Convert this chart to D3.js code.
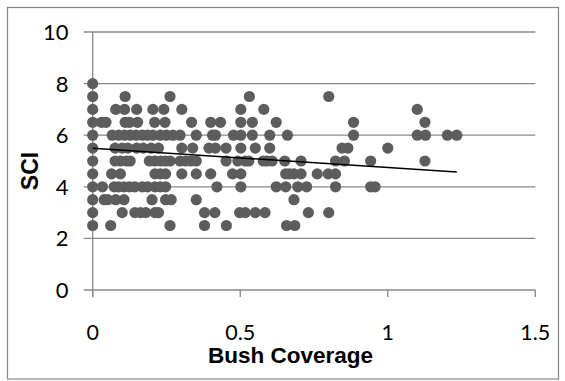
<!DOCTYPE html>
<html>
<head>
<meta charset="utf-8">
<script src="https://cdn.jsdelivr.net/npm/d3@7"></script>
<style>
  body { margin: 0; background: #fff; }
</style>
</head>
<body>
<div id="chart"></div>
<script>
// Bush coverage values, grouped by the SCI score they were recorded with
const sci80 = [0];
const sci75 = [0, 0.11, 0.262, 0.531, 0.80];
const sci70 = [0, 0.078, 0.108, 0.149, 0.204, 0.241, 0.302, 0.502, 0.58, 1.10];
const sci65 = [0, 0.03, 0.045, 0.11, 0.125, 0.152, 0.21, 0.245, 0.335, 0.40, 0.433, 0.502, 0.541, 0.622, 0.884, 1.126];
const sci60 = [0, 0.066, 0.088, 0.108, 0.127, 0.147, 0.168, 0.186, 0.204, 0.229, 0.25, 0.272, 0.296,
  0.351, 0.406, 0.416, 0.477, 0.502, 0.541, 0.60, 0.66, 0.884, 1.10, 1.128, 1.202, 1.234];
const sci55 = [0, 0.076, 0.10, 0.119, 0.149, 0.171, 0.198, 0.223, 0.302, 0.339, 0.394, 0.416, 0.452,
  0.502, 0.551, 0.60, 0.845, 0.865, 1.0];
const sci50 = [0, 0.076, 0.094, 0.115, 0.127, 0.192, 0.211, 0.231, 0.247, 0.262, 0.296, 0.315, 0.333,
  0.351, 0.452, 0.492, 0.517, 0.529, 0.578, 0.59, 0.608, 0.651, 0.706, 0.823, 0.853, 0.942, 1.126];
const sci45 = [0, 0.064, 0.094, 0.211, 0.229, 0.247, 0.302, 0.351, 0.40, 0.474, 0.502, 0.654, 0.667,
  0.682, 0.706, 0.761, 0.798, 0.823];
const sci40 = [0, 0.033, 0.073, 0.088, 0.106, 0.125, 0.143, 0.168, 0.186, 0.211, 0.229, 0.247, 0.421,
  0.502, 0.622, 0.654, 0.695, 0.725, 0.823, 0.942, 0.957];
const sci35 = [0, 0.039, 0.051, 0.078, 0.106, 0.201, 0.247, 0.266, 0.351, 0.682];
const sci30 = [0, 0.10, 0.143, 0.162, 0.18, 0.211, 0.223, 0.379, 0.414, 0.498, 0.517, 0.551, 0.584, 0.731, 0.80];
const sci25 = [0, 0.061, 0.262, 0.379, 0.453, 0.657, 0.685];

const sciLevels = [8, 7.5, 7, 6.5, 6, 5.5, 5, 4.5, 4, 3.5, 3, 2.5];
const coverageRows = [sci80, sci75, sci70, sci65, sci60, sci55, sci50, sci45, sci40, sci35, sci30, sci25];

// linear trendline
const trendX = [0, 1.234];
const trendIntercept = 5.49;
const trendSlope = -0.745;

const xTicks = [0, 0.5, 1, 1.5];
const yTicks = [0, 2, 4, 6, 8, 10];

const points = [];
sciLevels.forEach((s, i) => {
  coverageRows[i].forEach((c) => points.push({ x: c, y: s }));
});

const W = 565, H = 381;
const svg = d3.select("#chart")
  .append("svg")
  .attr("width", W)
  .attr("height", H);

// outer chart border
svg.append("rect")
  .attr("x", 7.5).attr("y", 7.5)
  .attr("width", 551).attr("height", 371.5)
  .attr("fill", "#fff")
  .attr("stroke", "#868686")
  .attr("stroke-width", 1.2);

const x = d3.scaleLinear().domain([0, 1.5]).range([92.7, 535.3]);
const y = d3.scaleLinear().domain([0, 10]).range([290, 32]);

const gridColor = "#888";

// horizontal gridlines with their left ticks
svg.append("g")
  .selectAll("line")
  .data(yTicks)
  .enter()
  .append("line")
  .attr("x1", x(0) - 9)
  .attr("x2", x(1.5))
  .attr("y1", (d) => y(d))
  .attr("y2", (d) => y(d))
  .attr("stroke", gridColor)
  .attr("stroke-width", 1.3);

// y axis line
svg.append("line")
  .attr("x1", x(0)).attr("x2", x(0))
  .attr("y1", y(10)).attr("y2", y(0) + 7)
  .attr("stroke", gridColor)
  .attr("stroke-width", 1.3);

// x ticks (downwards)
svg.append("g")
  .selectAll("line")
  .data(xTicks)
  .enter()
  .append("line")
  .attr("x1", (d) => x(d))
  .attr("x2", (d) => x(d))
  .attr("y1", y(0))
  .attr("y2", y(0) + 7)
  .attr("stroke", gridColor)
  .attr("stroke-width", 1.3);

// tick labels
svg.append("g")
  .selectAll("text")
  .data(yTicks)
  .enter()
  .append("text")
  .attr("x", 68.5)
  .attr("y", (d) => y(d) + 8)
  .attr("text-anchor", "end")
  .attr("font-family", "Lato, 'Open Sans', sans-serif")
  .attr("font-size", 22)
  .attr("fill", "#000")
  .text((d) => d);

svg.append("g")
  .selectAll("text")
  .data(xTicks)
  .enter()
  .append("text")
  .attr("x", (d) => x(d))
  .attr("y", 340)
  .attr("text-anchor", "middle")
  .attr("font-family", "Lato, 'Open Sans', sans-serif")
  .attr("font-size", 21.5)
  .attr("fill", "#000")
  .text((d) => d);

// axis titles
svg.append("text")
  .attr("x", 290.5)
  .attr("y", 363)
  .attr("text-anchor", "middle")
  .attr("font-family", "'Liberation Sans', Arial, sans-serif")
  .attr("font-weight", "bold")
  .attr("font-size", 22.5)
  .text("Bush Coverage");

svg.append("text")
  .attr("transform", "translate(37.5,171) rotate(-90)")
  .attr("text-anchor", "middle")
  .attr("font-family", "'Liberation Sans', Arial, sans-serif")
  .attr("font-weight", "bold")
  .attr("font-size", 23)
  .text("SCI");

// points
svg.append("g")
  .selectAll("circle")
  .data(points)
  .enter()
  .append("circle")
  .attr("cx", (d) => x(d.x))
  .attr("cy", (d) => y(d.y))
  .attr("r", 5.6)
  .attr("fill", "#5d5d5d");

// trendline
const line = d3.line()
  .x((d) => x(d))
  .y((d) => y(trendIntercept + trendSlope * d));

svg.append("path")
  .datum(trendX)
  .attr("d", line)
  .attr("fill", "none")
  .attr("stroke", "#000")
  .attr("stroke-width", 1.5);
</script>
</body>
</html>
